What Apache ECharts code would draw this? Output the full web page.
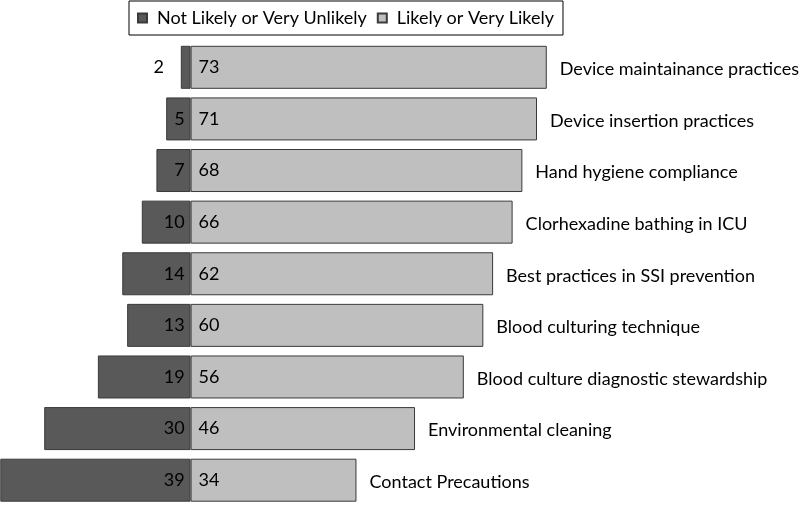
<!DOCTYPE html>
<html>
<head>
<meta charset="utf-8">
<script src="https://cdn.jsdelivr.net/npm/echarts@6/dist/echarts.min.js"></script>
<style>html,body{margin:0;padding:0;background:#fff;}#c{width:800px;height:506px;}</style>
</head>
<body>
<div id="c"></div>
<script>
const categories = [
  'Device maintainance practices',
  'Device insertion practices',
  'Hand hygiene compliance',
  'Clorhexadine bathing in ICU',
  'Best practices in SSI prevention',
  'Blood culturing technique',
  'Blood culture diagnostic stewardship',
  'Environmental cleaning',
  'Contact Precautions'
];
const notLikely = [2, 5, 7, 10, 14, 13, 19, 30, 39];
const likely = [73, 71, 68, 66, 62, 60, 56, 46, 34];
const seriesNames = ['Not Likely or Very Unlikely', 'Likely or Very Likely'];

const FONT = 'Lato';
const FS = 18;
const chart = echarts.init(document.getElementById('c'), null, {renderer: 'canvas'});

const darkData = notLikely.map(v => {
  const item = {value: -v};
  if (v < 4) item.label = {position: 'left', distance: 17};
  return item;
});

chart.setOption({
  animation: false,
  textStyle: {fontFamily: FONT},
  legend: {
    data: seriesNames,
    icon: 'rect',
    left: 129,
    top: 1,
    itemWidth: 9,
    itemHeight: 9,
    itemGap: 10,
    padding: [8, 9, 8, 8],
    borderColor: '#000',
    borderWidth: 1,
    backgroundColor: '#fff',
    textStyle: {fontFamily: FONT, fontSize: FS, color: '#000', padding: [0, 0, 0, 5]}
  },
  grid: {left: 0, right: 0, top: 41.5, height: 468, containLabel: false},
  xAxis: {
    type: 'value', min: -39.06, max: 124.9,
    show: false, splitLine: {show: false}
  },
  yAxis: {
    type: 'category', data: categories, inverse: true, show: false
  },
  series: [
    {
      name: seriesNames[0], type: 'bar', stack: 'total', barWidth: 43,
      data: darkData,
      itemStyle: {color: '#595959', borderColor: '#3a3a3a', borderWidth: 1},
      label: {
        show: true, position: 'insideRight', distance: 6,
        fontFamily: FONT, fontSize: FS, color: '#000',
        formatter: p => Math.abs(p.value)
      }
    },
    {
      name: seriesNames[1], type: 'bar', stack: 'total', barWidth: 43,
      data: likely,
      itemStyle: {color: '#bfbfbf', borderColor: '#3a3a3a', borderWidth: 1},
      label: {
        show: true, position: 'insideLeft', distance: 8,
        fontFamily: FONT, fontSize: FS, color: '#000'
      }
    },
    {
      name: 'labels', type: 'bar', barWidth: 43, barGap: '-100%',
      data: likely, silent: true,
      itemStyle: {color: 'rgba(0,0,0,0)'},
      label: {
        show: true, position: 'right', distance: 13, offset: [0, 2],
        fontFamily: FONT, fontSize: FS, color: '#000',
        formatter: p => p.name
      }
    }
  ]
});
</script>
</body>
</html>
